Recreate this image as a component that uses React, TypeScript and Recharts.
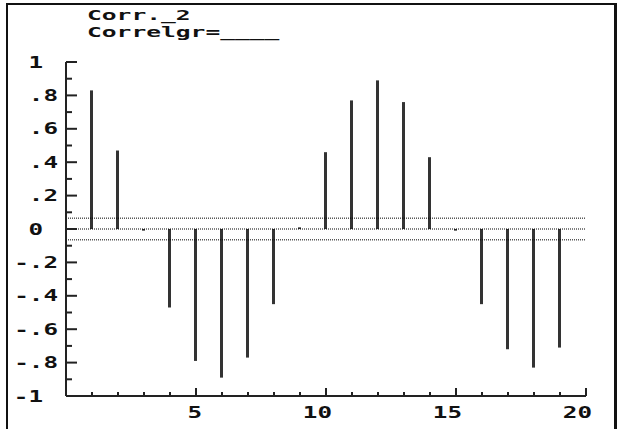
import React from 'react';
import { Bar, BarChart, ReferenceLine, XAxis, YAxis } from 'recharts';

// correlogram values, lag 1..19
const lags = [1, 2, 3, 4, 5, 6, 7, 8, 9, 10, 11, 12, 13, 14, 15, 16, 17, 18, 19];
const corr = [
	0.83, 0.47, -0.01, -0.47, -0.79, -0.89, -0.77, -0.45, 0.01, 0.46, 0.77, 0.89, 0.76, 0.43, -0.01,
	-0.45, -0.72, -0.83, -0.71,
];
const bandLimit = 0.065;

const yTicks = [1, 0.9, 0.8, 0.7, 0.6, 0.5, 0.4, 0.3, 0.2, 0.1, 0, -0.1, -0.2, -0.3, -0.4, -0.5, -0.6, -0.7, -0.8, -0.9, -1];
const yMajor = [1, 0.8, 0.6, 0.4, 0.2, 0, -0.2, -0.4, -0.6, -0.8, -1];
const yLabels = ['1', '.8', '.6', '.4', '.2', '0', '-.2', '-.4', '-.6', '-.8', '-1'];
const xTicks = [0, 1, 2, 3, 4, 5, 6, 7, 8, 9, 10, 11, 12, 13, 14, 15, 16, 17, 18, 19, 20];
const xLabels = [5, 10, 15, 20];

const titleLines = ['Corr._2', 'Correlgr=____'];

const data = lags.map((lag, i) => ({ lag, value: corr[i] }));

const FONT = '"DejaVu Sans Mono", monospace';
const CHAR_W = 14.6;
const INK = '#222';

const YTick = (props: any) => {
	const { x, y, payload } = props;
	const v = payload.value;
	const idx = yMajor.findIndex((m) => Math.abs(m - v) < 1e-6);
	const major = idx >= 0;
	const label = major ? yLabels[idx] : '';
	const isInt = label !== '' && !label.includes('.');
	return (
		<g>
			<line x1={x} x2={x + (major ? 11 : 6)} y1={y} y2={y} stroke={INK} strokeWidth={2} />
			{label && (
				<text
					x={isInt ? x - 23 : x - 8}
					y={y + 5.5}
					textAnchor="end"
					fontFamily={FONT}
					fontWeight="bold"
					fontSize={15}
					fill="#111"
					textLength={label.length * CHAR_W}
					lengthAdjust="spacingAndGlyphs"
				>
					{label}
				</text>
			)}
		</g>
	);
};

const XTick = (props: any) => {
	const { x, y, payload } = props;
	const v = payload.value;
	const major = v % 5 === 0;
	const showLabel = xLabels.includes(v);
	const label = String(v);
	return (
		<g>
			{v > 0 && (
				<line x1={x} x2={x} y1={y} y2={y - (major ? 8 : 4)} stroke={INK} strokeWidth={2} />
			)}
			{showLabel && (
				<text
					x={x + 6}
					y={y + 22}
					textAnchor="end"
					fontFamily={FONT}
					fontWeight="bold"
					fontSize={15}
					fill="#111"
					textLength={label.length * CHAR_W}
					lengthAdjust="spacingAndGlyphs"
				>
					{label}
				</text>
			)}
		</g>
	);
};

export default function App() {
	return (
		<div
			style={{
				position: 'absolute',
				left: 0,
				top: 0,
				width: 618,
				height: 429,
				overflow: 'hidden',
				background: '#fff',
			}}
		>
			<div
				style={{
					position: 'absolute',
					left: 6,
					top: 3,
					width: 611,
					height: 440,
					borderTop: '2px solid #111',
					borderLeft: '2px solid #111',
					borderRight: '3px solid #111',
					boxSizing: 'border-box',
				}}
			/>
			<svg style={{ position: 'absolute', left: 0, top: 0 }} width={618} height={50}>
				{titleLines.map((t, i) => (
					<text
						key={t}
						x={87}
						y={20 + i * 17}
						fontFamily={FONT}
						fontWeight="bold"
						fontSize={14}
						fill="#111"
						textLength={t.length * 14.8}
						lengthAdjust="spacingAndGlyphs"
					>
						{t}
					</text>
				))}
			</svg>
			<div style={{ position: 'absolute', left: 0, top: 0 }}>
				<BarChart
					width={618}
					height={429}
					data={data}
					margin={{ top: 62, right: 32, bottom: 3, left: 6 }}
					barSize={3}
				>
					<XAxis
						dataKey="lag"
						type="number"
						domain={[0, 20]}
						ticks={xTicks}
						interval={0}
						height={30}
						tickLine={false}
						tickSize={0}
						tickMargin={0}
						axisLine={{ stroke: INK, strokeWidth: 2 }}
						tick={<XTick />}
					/>
					<YAxis
						type="number"
						domain={[-1, 1]}
						ticks={yTicks}
						interval={0}
						width={60}
						tickLine={false}
						tickSize={0}
						tickMargin={0}
						axisLine={{ stroke: INK, strokeWidth: 2 }}
						tick={<YTick />}
					/>
					<ReferenceLine y={bandLimit} stroke="#000" strokeDasharray="1 1" />
					<ReferenceLine y={0} stroke="#000" strokeDasharray="1 1" />
					<ReferenceLine y={-bandLimit} stroke="#000" strokeDasharray="1 1" />
					<Bar dataKey="value" fill="#333" isAnimationActive={false} />
				</BarChart>
			</div>
		</div>
	);
}
